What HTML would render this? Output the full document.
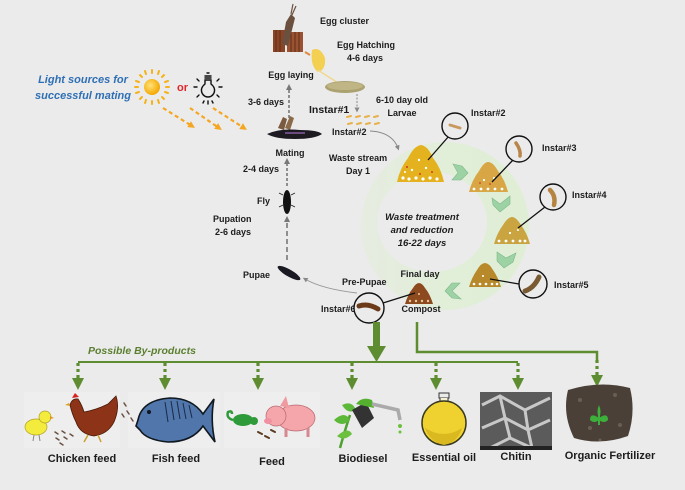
<!DOCTYPE html>
<html><head><meta charset="utf-8"><style>
html,body{margin:0;padding:0;background:#ebebeb;}
svg{display:block;}
text{font-family:"Liberation Sans",Arial,sans-serif;font-weight:bold;fill:#1c1c1c;}
</style></head><body>
<svg width="685" height="490" viewBox="0 0 685 490" xmlns="http://www.w3.org/2000/svg">
<defs>
<radialGradient id="sun" cx="0.4" cy="0.4" r="0.6"><stop offset="0" stop-color="#ffe27a"/><stop offset="1" stop-color="#f5a800"/></radialGradient>
<linearGradient id="ring" x1="0" y1="0" x2="1" y2="0"><stop offset="0" stop-color="#e6ece1"/><stop offset="0.5" stop-color="#e1eed8"/><stop offset="1" stop-color="#e0eed6"/></linearGradient>
<marker id="ga" markerUnits="userSpaceOnUse" markerWidth="6" markerHeight="6" refX="3" refY="3" orient="auto"><path d="M0,0 L6,3 L0,6z" fill="#777"/></marker>
<marker id="gs" markerUnits="userSpaceOnUse" markerWidth="5" markerHeight="5" refX="2.5" refY="2.5" orient="auto"><path d="M0,0 L5,2.5 L0,5z" fill="#888"/></marker>
<marker id="oa" markerUnits="userSpaceOnUse" markerWidth="7" markerHeight="7" refX="3.5" refY="3.5" orient="auto"><path d="M0,0 L7,3.5 L0,7z" fill="#f5a623"/></marker>
</defs>
<rect width="685" height="490" fill="#ebebeb"/>

<!-- green ring -->
<circle cx="445" cy="226" r="84" fill="url(#ring)"/>
<ellipse cx="432" cy="222" rx="55" ry="50" fill="#ebebeb"/>

<!-- Light sources -->
<text x="83" y="83" text-anchor="middle" font-size="11" font-style="italic" style="fill:#2f6fb5">Light sources for</text>
<text x="83" y="99" text-anchor="middle" font-size="11" font-style="italic" style="fill:#2f6fb5">successful mating</text>
<g stroke="#f5b21a" stroke-width="2" stroke-linecap="round">
<line x1="152" y1="73" x2="152" y2="70"/><line x1="152" y1="101" x2="152" y2="104"/>
<line x1="138" y1="87" x2="135" y2="87"/><line x1="166" y1="87" x2="169" y2="87"/>
<line x1="142" y1="77" x2="140" y2="75"/><line x1="162" y1="77" x2="164" y2="75"/>
<line x1="142" y1="97" x2="140" y2="99"/><line x1="162" y1="97" x2="164" y2="99"/>
<line x1="146" y1="74" x2="145" y2="71"/><line x1="158" y1="74" x2="159" y2="71"/>
<line x1="146" y1="100" x2="145" y2="103"/><line x1="158" y1="100" x2="159" y2="103"/>
<line x1="139" y1="82" x2="136" y2="81"/><line x1="165" y1="82" x2="168" y2="81"/>
<line x1="139" y1="92" x2="136" y2="93"/><line x1="165" y1="92" x2="168" y2="93"/>
</g>
<circle cx="152" cy="87" r="8" fill="url(#sun)"/>
<text x="177" y="91" font-size="11" style="fill:#e0262a">or</text>
<g stroke="#111" stroke-width="1.4" fill="none" stroke-linecap="round">
<path d="M205,80 L205,84 Q200,88 202,93 Q204,97 208,97 Q212,97 214,93 Q216,88 211,84 L211,80z"/>
<line x1="205" y1="76" x2="211" y2="76"/><line x1="205" y1="78" x2="211" y2="78"/><line x1="207" y1="73" x2="209" y2="73"/>
<line x1="197" y1="87" x2="194" y2="87"/><line x1="219" y1="87" x2="222" y2="87"/>
<line x1="199" y1="81" x2="197" y2="79"/><line x1="217" y1="81" x2="219" y2="79"/>
<line x1="199" y1="95" x2="197" y2="97"/><line x1="217" y1="95" x2="219" y2="97"/>
<line x1="204" y1="101" x2="203" y2="103"/><line x1="212" y1="101" x2="213" y2="103"/><line x1="208" y1="101" x2="208" y2="104"/>
</g>
<g stroke="#f5a623" stroke-width="2.2" stroke-dasharray="4 3" fill="none">
<line x1="163" y1="108" x2="192" y2="126" marker-end="url(#oa)"/>
<line x1="190" y1="108" x2="219" y2="128" marker-end="url(#oa)"/>
<line x1="213" y1="108" x2="244" y2="128" marker-end="url(#oa)"/>
</g>

<!-- Egg cluster fly -->
<rect x="273" y="30" width="12" height="22" fill="#8a4526"/>
<rect x="287" y="32" width="16" height="20" fill="#9b5232"/>
<g stroke="#5e2d16" stroke-width="1"><line x1="276" y1="30" x2="276" y2="52"/><line x1="280" y1="30" x2="280" y2="52"/><line x1="291" y1="32" x2="291" y2="52"/><line x1="295" y1="32" x2="295" y2="52"/><line x1="299" y1="32" x2="299" y2="52"/></g>
<path d="M282,44 L286,22 L291,14 L295,18 L292,30 L288,46z" fill="#6b5040"/>
<line x1="291" y1="14" x2="293" y2="4" stroke="#6b5040" stroke-width="1.2"/>
<line x1="292" y1="15" x2="296" y2="6" stroke="#6b5040" stroke-width="1.2"/>
<path d="M305,52 L310,55" stroke="#e08a40" stroke-width="2"/>
<path d="M312,50 Q320,46 325,58 Q326,70 318,72 Q310,66 312,50z" fill="#f3cf52"/>
<path d="M318,70 Q330,78 340,84" stroke="#f0d890" stroke-width="1.5" fill="none"/>
<ellipse cx="345" cy="87" rx="20" ry="6" fill="#aba171"/>
<ellipse cx="345" cy="86" rx="18" ry="4" fill="#bfb585"/>
<text x="320" y="24" font-size="9">Egg cluster</text>
<text x="337" y="48" font-size="9">Egg Hatching</text>
<text x="365" y="61" font-size="9" text-anchor="middle">4-6 days</text>
<text x="291" y="78" font-size="9" text-anchor="middle">Egg laying</text>
<text x="248" y="105" font-size="9">3-6 days</text>
<text x="309" y="113" font-size="10.5">Instar#1</text>
<text x="376" y="103" font-size="9">6-10 day old</text>
<text x="402" y="116" font-size="9" text-anchor="middle">Larvae</text>
<text x="332" y="135" font-size="9">Instar#2</text>

<line x1="357" y1="94" x2="357" y2="110" stroke="#888" stroke-width="1" stroke-dasharray="2 1.5" marker-end="url(#gs)"/>
<g stroke="#e8b04a" stroke-width="2" stroke-linecap="round">
<line x1="347" y1="117" x2="351" y2="116"/><line x1="356" y1="117" x2="360" y2="116"/><line x1="365" y1="117" x2="369" y2="116"/><line x1="374" y1="117" x2="378" y2="116"/>
<line x1="348" y1="124" x2="352" y2="123"/><line x1="357" y1="124" x2="361" y2="123"/><line x1="366" y1="124" x2="370" y2="123"/><line x1="375" y1="124" x2="379" y2="123"/>
</g>
<path d="M370,131 Q392,132 398,148" stroke="#888" stroke-width="1" fill="none" marker-end="url(#gs)"/>

<!-- life cycle left -->
<line x1="289" y1="118" x2="289" y2="87" stroke="#777" stroke-width="1.6" stroke-dasharray="3 2" marker-end="url(#ga)"/>
<path d="M278,128 L283,117 L287,119 L284,130z" fill="#7a5a40"/>
<path d="M285,128 L290,116 L294,118 L290,130z" fill="#8a6a48"/>
<path d="M267,134 Q280,128 300,130 Q318,130 322,134 Q315,139 295,139 Q275,139 267,134z" fill="#1e1a22"/>
<path d="M285,133 L305,133" stroke="#6a4a80" stroke-width="2"/>
<text x="290" y="156" font-size="9" text-anchor="middle">Mating</text>
<text x="243" y="172" font-size="9">2-4 days</text>
<line x1="287" y1="186" x2="287" y2="161" stroke="#777" stroke-width="1.6" stroke-dasharray="3 2" marker-end="url(#ga)"/>
<ellipse cx="287" cy="202" rx="4" ry="12" fill="#111"/>
<g stroke="#222" stroke-width="0.8"><line x1="283" y1="195" x2="279" y2="193"/><line x1="291" y1="195" x2="295" y2="193"/><line x1="283" y1="205" x2="279" y2="207"/><line x1="291" y1="205" x2="295" y2="207"/></g>
<text x="257" y="204" font-size="9">Fly</text>
<text x="213" y="222" font-size="9">Pupation</text>
<text x="215" y="235" font-size="9">2-6 days</text>
<line x1="287" y1="260" x2="287" y2="219" stroke="#777" stroke-width="1.6" stroke-dasharray="5 3" marker-end="url(#ga)"/>
<ellipse cx="289" cy="273" rx="13" ry="3.5" fill="#1a1a22" transform="rotate(30 289 273)"/>
<text x="243" y="278" font-size="9">Pupae</text>
<path d="M357,293 Q322,289 305,279" stroke="#999" stroke-width="1" fill="none" marker-end="url(#gs)"/>
<text x="342" y="285" font-size="9">Pre-Pupae</text>

<!-- waste text -->
<text x="358" y="161" font-size="9" text-anchor="middle">Waste stream</text>
<text x="358" y="174" font-size="9" text-anchor="middle">Day 1</text>
<text x="422" y="220" font-size="9.5" text-anchor="middle" font-style="italic">Waste treatment</text>
<text x="422" y="233" font-size="9.5" text-anchor="middle" font-style="italic">and reduction</text>
<text x="422" y="246" font-size="9.5" text-anchor="middle" font-style="italic">16-22 days</text>
<text x="420" y="277" font-size="9" text-anchor="middle">Final day</text>
<text x="421" y="312" font-size="9" text-anchor="middle">Compost</text>
<text x="321" y="312" font-size="9">Instar#6</text>

<!-- piles -->
<path d="M397,182 Q400,168 408,158 Q414,146 421,145 Q428,146 433,158 Q441,168 444,182z" fill="#e4b21e"/>
<g fill="#fff"><circle cx="403" cy="178" r="1.6"/><circle cx="409" cy="179" r="1.6"/><circle cx="416" cy="178" r="1.6"/><circle cx="423" cy="179" r="1.6"/><circle cx="430" cy="178" r="1.6"/><circle cx="437" cy="179" r="1.6"/><circle cx="412" cy="170" r="1.2"/><circle cx="426" cy="168" r="1.2"/><circle cx="419" cy="160" r="1.2"/><circle cx="405" cy="172" r="1"/></g>
<g fill="#d8392a"><circle cx="407" cy="167" r="1"/><circle cx="432" cy="172" r="1"/><circle cx="420" cy="174" r="1"/></g>
<path d="M469,192 Q472,180 479,171 Q484,162 488,162 Q493,162 498,171 Q505,180 508,192z" fill="#d8a644"/>
<g fill="#fff"><circle cx="474" cy="189" r="1.4"/><circle cx="481" cy="189" r="1.4"/><circle cx="488" cy="189" r="1.4"/><circle cx="495" cy="189" r="1.4"/><circle cx="502" cy="189" r="1.4"/><circle cx="484" cy="180" r="1.1"/><circle cx="494" cy="178" r="1.1"/></g>
<g fill="#d8392a"><circle cx="490" cy="184" r="0.9"/><circle cx="480" cy="183" r="0.9"/></g>
<path d="M494,244 Q497,233 503,225 Q508,217 512,217 Q516,217 521,225 Q527,233 530,244z" fill="#c9a440"/>
<g fill="#fff"><circle cx="499" cy="241" r="1.4"/><circle cx="506" cy="241" r="1.4"/><circle cx="513" cy="241" r="1.4"/><circle cx="520" cy="241" r="1.4"/><circle cx="525" cy="241" r="1.4"/><circle cx="510" cy="233" r="1.1"/><circle cx="518" cy="230" r="1"/></g>
<path d="M469,287 Q472,277 477,270 Q481,263 485,263 Q489,263 493,270 Q498,277 501,287z" fill="#b8892a"/>
<g fill="#fff"><circle cx="474" cy="284" r="1.3"/><circle cx="480" cy="284" r="1.3"/><circle cx="486" cy="284" r="1.3"/><circle cx="492" cy="284" r="1.3"/><circle cx="497" cy="284" r="1.3"/><circle cx="483" cy="276" r="1"/></g>
<path d="M405,304 Q408,294 413,288 Q416,283 419,283 Q422,283 425,288 Q430,294 433,304z" fill="#8d4a1e"/>
<g fill="#e8c8a0"><circle cx="410" cy="301" r="1.2"/><circle cx="416" cy="301" r="1.2"/><circle cx="422" cy="301" r="1.2"/><circle cx="428" cy="301" r="1.2"/><circle cx="419" cy="294" r="1"/></g>

<!-- chevrons -->
<g fill="#9dd3a4" stroke="#7fb88a" stroke-width="0.6">
<path d="M453,164 L462,166 L468,173 L461,180 L452,180 L458,173z"/>
<path d="M492,198 L500,204 L510,196 L510,204 L500,212 L493,205z"/>
<path d="M497,252 L506,258 L516,253 L513,262 L504,268 L497,261z"/>
<path d="M460,283 L452,291 L461,299 L452,298 L445,291 L452,283z"/>
</g>

<!-- instar circles -->
<g stroke="#111" stroke-width="1.3">
<line x1="449" y1="136" x2="428" y2="160"/>
<line x1="513" y1="160" x2="492" y2="182"/>
<line x1="545" y1="207" x2="518" y2="228"/>
<line x1="519" y1="284" x2="490" y2="279"/>
<line x1="383" y1="303" x2="415" y2="293"/>
</g>
<g fill="#ebebeb" stroke="#111" stroke-width="1.4">
<circle cx="455" cy="126" r="13"/><circle cx="519" cy="149" r="13"/><circle cx="553" cy="197" r="13"/><circle cx="533" cy="284" r="14"/><circle cx="369" cy="308" r="15"/>
</g>
<g stroke-linecap="round" fill="none">
<line x1="450" y1="125" x2="460" y2="128" stroke="#c99a60" stroke-width="3"/>
<path d="M516,143 Q521,150 520,156" stroke="#b8854a" stroke-width="3.5"/>
<path d="M550,190 Q556,196 554,205" stroke="#b58440" stroke-width="4.5"/>
<path d="M525,291 Q534,288 539,277" stroke="#7a5a30" stroke-width="5"/>
<path d="M359,306 Q368,303 378,309" stroke="#6a3a1a" stroke-width="5"/>
</g>
<text x="471" y="116" font-size="9">Instar#2</text>
<text x="542" y="151" font-size="9">Instar#3</text>
<text x="572" y="198" font-size="9">Instar#4</text>
<text x="554" y="288" font-size="9">Instar#5</text>

<!-- by-products connectors -->
<g fill="#5e8c31">
<rect x="373" y="322" width="7" height="26"/>
<path d="M367,346 L386,346 L376.5,362z"/>
</g>
<path d="M417,322 L417,352 L597,352 L597,360" stroke="#5e8c31" stroke-width="2.5" fill="none"/>
<line x1="78" y1="362" x2="518" y2="362" stroke="#5e8c31" stroke-width="2"/>
<text x="88" y="354" font-size="10.5" font-style="italic" style="fill:#5b7f30">Possible By-products</text>
<g stroke="#5e8c31" stroke-width="3.2" stroke-dasharray="3 3">
<line x1="78" y1="363" x2="78" y2="379"/><line x1="165" y1="363" x2="165" y2="379"/><line x1="258" y1="363" x2="258" y2="379"/><line x1="352" y1="363" x2="352" y2="379"/><line x1="436" y1="363" x2="436" y2="379"/><line x1="518" y1="363" x2="518" y2="379"/><line x1="597" y1="360" x2="597" y2="375"/>
</g>
<g fill="#5e8c31">
<path d="M72,378 L84,378 L78,390z"/><path d="M159,378 L171,378 L165,390z"/><path d="M252,378 L264,378 L258,390z"/><path d="M346,378 L358,378 L352,390z"/><path d="M430,378 L442,378 L436,390z"/><path d="M512,378 L524,378 L518,390z"/><path d="M591,375 L603,375 L597,387z"/>
</g>

<!-- bottom images -->
<rect x="24" y="392" width="96" height="56" fill="#eeeeee"/>
<rect x="128" y="392" width="92" height="56" fill="#eeeeee"/>
<rect x="224" y="392" width="96" height="56" fill="#eeeeee"/>
<!-- chick -->
<ellipse cx="36" cy="427" rx="11" ry="8" fill="#f4ec3c" stroke="#b0a020" stroke-width="0.7"/>
<circle cx="45" cy="417" r="6" fill="#f4ec3c" stroke="#b0a020" stroke-width="0.7"/>
<path d="M50,416 L54,418 L50,419z" fill="#e89020"/>
<g stroke="#888" stroke-width="1"><line x1="34" y1="435" x2="33" y2="441"/><line x1="39" y1="435" x2="40" y2="441"/></g>
<g stroke="#6a5040" stroke-width="1.5" stroke-linecap="round"><line x1="55" y1="432" x2="58" y2="434"/><line x1="62" y1="431" x2="65" y2="433"/><line x1="56" y1="438" x2="59" y2="440"/><line x1="64" y1="437" x2="67" y2="439"/><line x1="60" y1="443" x2="63" y2="445"/><line x1="70" y1="434" x2="73" y2="436"/></g>
<!-- hen -->
<path d="M70,405 Q72,398 78,399 Q82,405 84,412 Q96,410 108,404 L116,396 Q120,408 114,422 Q108,434 94,436 Q80,434 76,422 Q72,414 70,405z" fill="#8c3318" stroke="#4a1a08" stroke-width="0.8"/>
<path d="M72,398 L75,393 L79,397z" fill="#d82020"/>
<path d="M69,403 L65,405 L70,406z" fill="#e0a020"/>
<g stroke="#c8a030" stroke-width="1.5"><line x1="88" y1="435" x2="84" y2="442"/><line x1="98" y1="435" x2="101" y2="442"/></g>
<g stroke="#6a5040" stroke-width="1.5" stroke-linecap="round"><line x1="124" y1="403" x2="126" y2="406"/><line x1="127" y1="411" x2="129" y2="414"/><line x1="131" y1="418" x2="133" y2="421"/><line x1="122" y1="414" x2="124" y2="417"/></g>
<!-- fish -->
<path d="M138,420 Q142,400 170,398 Q192,398 203,414 L214,399 Q210,420 215,442 L203,426 Q192,442 168,442 Q146,440 140,430 L136,426z" fill="#5176ab" stroke="#101820" stroke-width="1.6"/>
<g stroke="#1a2a45" stroke-width="1"><line x1="165" y1="402" x2="168" y2="422"/><line x1="171" y1="401" x2="174" y2="420"/><line x1="177" y1="401" x2="180" y2="419"/><line x1="183" y1="403" x2="186" y2="419"/><line x1="189" y1="405" x2="192" y2="418"/></g>
<circle cx="149" cy="412" r="2" fill="#101820"/>
<!-- chameleon -->
<ellipse cx="243" cy="420" rx="10" ry="6" fill="#2f9a3a"/>
<circle cx="254" cy="421" r="4" fill="#2f9a3a"/>
<path d="M233,420 Q226,418 228,412 Q232,410 232,414" stroke="#2f9a3a" stroke-width="2.5" fill="none"/>
<g stroke="#5a3a20" stroke-width="2" stroke-linecap="round"><line x1="258" y1="432" x2="262" y2="434"/><line x1="265" y1="436" x2="269" y2="438"/><line x1="271" y1="430" x2="275" y2="432"/></g>
<!-- pig -->
<ellipse cx="296" cy="418" rx="19" ry="13" fill="#f4a6aa" stroke="#b86870" stroke-width="0.7"/>
<circle cx="276" cy="416" r="10" fill="#f4a6aa" stroke="#b86870" stroke-width="0.7"/>
<path d="M280,406 L286,396 L289,408z" fill="#f09aa0"/>
<ellipse cx="268" cy="421" rx="4" ry="3" fill="#f090a0"/>
<g stroke="#d88890" stroke-width="3"><line x1="286" y1="428" x2="286" y2="437"/><line x1="308" y1="428" x2="308" y2="437"/></g>
<!-- biodiesel -->
<path d="M340,448 Q345,430 350,415" stroke="#4ea030" stroke-width="2.5" fill="none"/>
<path d="M334,420 Q345,410 350,420 Q342,428 334,420z" fill="#5cb838"/>
<path d="M337,436 Q348,426 352,434 Q344,442 337,436z" fill="#6cc040"/>
<path d="M342,405 Q352,400 356,410 Q348,415 342,405z" fill="#5cb838"/>
<path d="M352,410 L366,402 L374,418 L362,428z" fill="#333"/>
<path d="M356,404 Q362,396 372,400 L374,408z" fill="#55b030"/>
<path d="M372,404 L398,410 L400,420" stroke="#aaa" stroke-width="3.5" fill="none"/>
<circle cx="400" cy="426" r="2" fill="#6cc040"/><circle cx="400" cy="432" r="1.5" fill="#6cc040"/>
<!-- essential oil -->
<rect x="439" y="393" width="10" height="5" fill="none" stroke="#333" stroke-width="1"/>
<path d="M440,398 L440,402 L448,402 L448,398" fill="#f4f0d0" stroke="#333" stroke-width="1"/>
<circle cx="444" cy="423" r="22" fill="#efd230" stroke="#3a3a20" stroke-width="1.5"/>
<path d="M425,428 Q444,440 462,428 Q458,442 444,445 Q430,442 425,428z" fill="#d9b820"/>
<!-- chitin -->
<rect x="480" y="392" width="72" height="58" fill="#5b5b5b"/>
<g stroke="#c8c8c8" stroke-width="3" fill="none">
<path d="M482,405 L500,396 L525,410 L550,398"/>
<path d="M482,428 L505,418 L528,430 L550,420"/>
<path d="M490,448 L510,438 L532,448"/>
<path d="M500,396 L505,418 L510,438"/>
<path d="M525,410 L528,430 L532,448"/>
</g>
<rect x="480" y="446" width="72" height="4" fill="#222"/>
<!-- fertilizer -->
<path d="M568,390 Q600,380 630,388 Q636,412 628,436 Q600,446 574,438 Q562,414 568,390z" fill="#4b4038"/>
<g fill="#6a5e52"><circle cx="580" cy="400" r="2"/><circle cx="615" cy="395" r="2"/><circle cx="590" cy="428" r="2"/><circle cx="620" cy="425" r="2"/><circle cx="600" cy="440" r="1.5"/></g>
<path d="M599,425 L599,408" stroke="#3cb03a" stroke-width="2"/>
<path d="M599,405 Q596,412 599,418 Q602,412 599,405z" fill="#3cb03a"/>
<path d="M599,418 Q590,412 590,420 Q594,424 599,420z" fill="#3cb03a"/>
<path d="M599,418 Q608,412 608,420 Q604,424 599,420z" fill="#3cb03a"/>

<!-- bottom labels -->
<text x="82" y="462" font-size="11" text-anchor="middle">Chicken feed</text>
<text x="176" y="462" font-size="11" text-anchor="middle">Fish feed</text>
<text x="272" y="465" font-size="11" text-anchor="middle">Feed</text>
<text x="363" y="462" font-size="11" text-anchor="middle">Biodiesel</text>
<text x="444" y="461" font-size="11" text-anchor="middle">Essential oil</text>
<text x="516" y="460" font-size="11" text-anchor="middle">Chitin</text>
<text x="610" y="459" font-size="11" text-anchor="middle">Organic Fertilizer</text>
</svg>
</body></html>
